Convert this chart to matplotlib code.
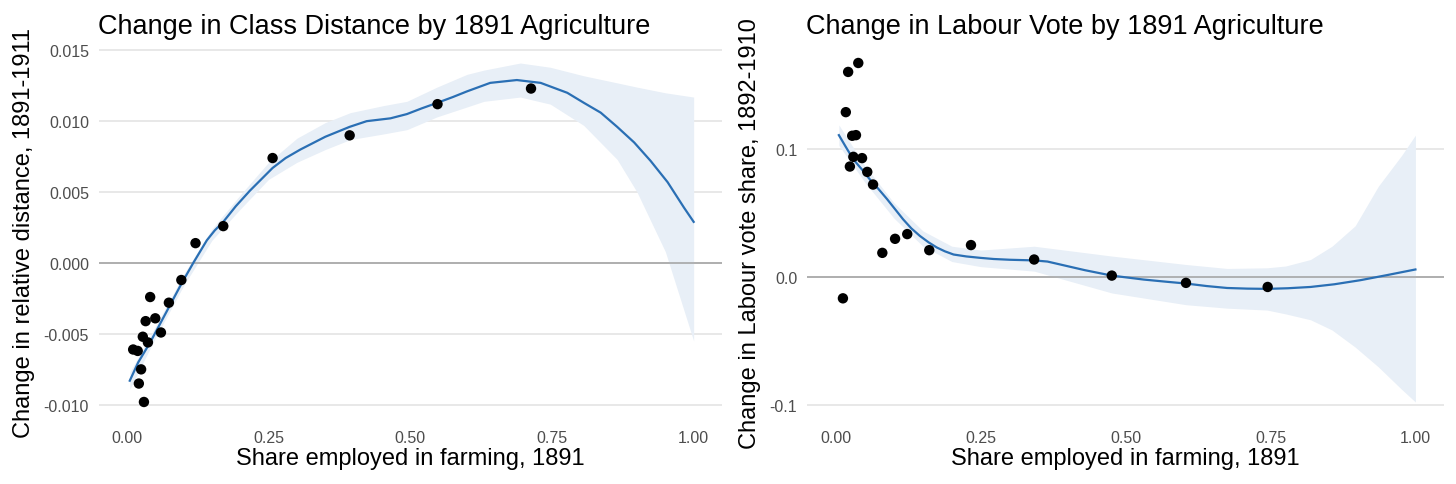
import matplotlib
matplotlib.use("Agg")
import matplotlib.pyplot as plt

# Left panel: class distance
class_x = [0.011, 0.019, 0.021, 0.025, 0.028, 0.030, 0.033, 0.037, 0.041, 0.050,
           0.060, 0.074, 0.096, 0.121, 0.170, 0.257, 0.393, 0.548, 0.713]
class_y = [-0.0061, -0.0062, -0.0085, -0.0075, -0.0052, -0.0098, -0.0041, -0.0056,
           -0.0024, -0.0039, -0.0049, -0.0028, -0.0012, 0.0014, 0.0026, 0.0074,
           0.0090, 0.0112, 0.0123]

class_fit_x = [0.005, 0.020, 0.041, 0.057, 0.073, 0.085, 0.097, 0.107, 0.117, 0.129,
               0.141, 0.155, 0.170, 0.192, 0.217, 0.237, 0.257, 0.280, 0.306, 0.350,
               0.393, 0.423, 0.465, 0.494, 0.520, 0.548, 0.575, 0.600, 0.641, 0.688,
               0.730, 0.777, 0.806, 0.836, 0.865, 0.895, 0.924, 0.954, 0.983, 1.000]
class_fit_y = [-0.0083, -0.0070, -0.0056, -0.0044, -0.0032, -0.0023, -0.0014, -0.0007,
               0.0000, 0.0008, 0.0016, 0.0023, 0.0029, 0.0040, 0.0051, 0.0059, 0.0067,
               0.0074, 0.0080, 0.0089, 0.0096, 0.0100, 0.0102, 0.0105, 0.0109, 0.0113,
               0.0117, 0.0121, 0.0127, 0.0129, 0.0127, 0.0120, 0.0113, 0.0106, 0.0096,
               0.0085, 0.0072, 0.0057, 0.0039, 0.0029]

class_band_x = [0.005, 0.05, 0.10, 0.15, 0.20, 0.25, 0.30, 0.35, 0.394, 0.453, 0.494,
                0.547, 0.60, 0.63, 0.694, 0.747, 0.806, 0.865, 0.90, 0.95, 1.00]
class_band_hi = [-0.0077, -0.0045, -0.0008, 0.0024, 0.0048, 0.0071, 0.0088, 0.0099,
                 0.0106, 0.0111, 0.0114, 0.0124, 0.0133, 0.0136, 0.0141, 0.0138, 0.0132,
                 0.0127, 0.0124, 0.0120, 0.0117]
class_band_lo = [-0.0089, -0.0053, -0.0016, 0.0016, 0.0038, 0.0059, 0.0071, 0.0080,
                 0.0087, 0.0091, 0.0094, 0.0103, 0.0110, 0.0114, 0.0117, 0.0112, 0.0097,
                 0.0073, 0.0050, 0.0008, -0.0055]

# Right panel: Labour vote
vote_x = [0.012, 0.017, 0.021, 0.024, 0.028, 0.030, 0.0345, 0.0385, 0.045, 0.054,
          0.064, 0.080, 0.102, 0.123, 0.161, 0.233, 0.342, 0.476, 0.604, 0.745]
vote_y = [-0.0168, 0.129, 0.1605, 0.0864, 0.1105, 0.094, 0.111, 0.1675, 0.093, 0.0822,
          0.0723, 0.0188, 0.0298, 0.0335, 0.0209, 0.0249, 0.0136, 0.0010, -0.0047, -0.0079]

vote_fit_x = [0.005, 0.018, 0.030, 0.045, 0.059, 0.073, 0.088, 0.102, 0.116, 0.130,
              0.145, 0.160, 0.174, 0.188, 0.203, 0.225, 0.249, 0.272, 0.300, 0.342,
              0.365, 0.387, 0.430, 0.476, 0.531, 0.570, 0.604, 0.640, 0.675, 0.710,
              0.744, 0.780, 0.819, 0.860, 0.905, 0.950, 1.000]
vote_fit_y = [0.111, 0.101, 0.092, 0.084, 0.076, 0.069, 0.061, 0.053, 0.045, 0.038,
              0.032, 0.027, 0.023, 0.020, 0.0175, 0.0160, 0.0149, 0.0140, 0.0134, 0.0129,
              0.0120, 0.0097, 0.0052, 0.0010, -0.0021, -0.0038, -0.0052, -0.0072,
              -0.0087, -0.0092, -0.0094, -0.0089, -0.0079, -0.0058, -0.0026, 0.0013,
              0.0058]

vote_band_x = [0.005, 0.05, 0.10, 0.15, 0.20, 0.25, 0.342, 0.476, 0.604, 0.675, 0.744,
               0.776, 0.819, 0.856, 0.896, 0.936, 0.976, 1.00]
vote_band_hi = [0.119, 0.087, 0.058, 0.036, 0.024, 0.021, 0.024, 0.0163, 0.0097, 0.0066,
                0.0071, 0.0085, 0.0136, 0.024, 0.040, 0.071, 0.095, 0.111]
vote_band_lo = [0.103, 0.074, 0.046, 0.024, 0.012, 0.008, 0.0045, -0.0126, -0.0218,
                -0.0245, -0.026, -0.029, -0.0336, -0.0416, -0.055, -0.0705, -0.088,
                -0.098]

x_ticks = [0.0, 0.25, 0.5, 0.75, 1.0]
x_tick_labels = ["0.00", "0.25", "0.50", "0.75", "1.00"]
class_ticks = [-0.010, -0.005, 0.000, 0.005, 0.010, 0.015]
class_tick_labels = ["-0.010", "-0.005", "0.000", "0.005", "0.010", "0.015"]
vote_ticks = [-0.1, 0.0, 0.1]
vote_tick_labels = ["-0.1", "0.0", "0.1"]

LINE_BLUE = "#2a6fb4"
BAND = "#e8eff7"


def _panel(ax, xs, ys, fx, fy, bx, blo, bhi, ylim, yticks, ylabels, title, ylab):
    ax.fill_between(bx, blo, bhi, color=BAND, linewidth=0, zorder=1)
    ax.axhline(0, color="#a0a0a0", linewidth=1.1, zorder=2)
    ax.plot(fx, fy, color=LINE_BLUE, linewidth=1.6, zorder=3,
            solid_joinstyle="round")
    ax.scatter(xs, ys, s=56, color="black", edgecolors="none", zorder=4)

    ax.set_xlim(-0.05, 1.05)
    ax.set_ylim(*ylim)
    ax.set_xticks(x_ticks)
    ax.set_xticklabels(x_tick_labels)
    ax.set_yticks(yticks)
    ax.set_yticklabels(ylabels)
    ax.grid(axis="y", color="#e6e6e6", linewidth=1.3, zorder=0)
    ax.set_axisbelow(True)
    for s in ax.spines.values():
        s.set_visible(False)
    ax.tick_params(length=0, labelsize=11.5, labelcolor="#4d4d4d")
    ax.tick_params(axis="x", pad=8)
    ax.tick_params(axis="y", pad=7)
    ax.set_title(title, loc="left", fontsize=19.5, pad=9, x=-0.001)
    ax.set_xlabel("Share employed in farming, 1891", fontsize=17, labelpad=1)
    ax.set_ylabel(ylab, fontsize=17, labelpad=6)


def _main():
    plt.rcParams["font.family"] = ["Liberation Sans", "DejaVu Sans"]
    fig = plt.figure(figsize=(14.56, 4.85), dpi=100)
    bottom = 1 - 420 / 485
    height = (420 - 47) / 485
    ax1 = fig.add_axes([98.6 / 1456, bottom, (722 - 98.6) / 1456, height])
    ax2 = fig.add_axes([807 / 1456, bottom, (1444.4 - 807) / 1456, height])

    _panel(ax1, class_x, class_y, class_fit_x, class_fit_y,
           class_band_x, class_band_lo, class_band_hi, (-0.011, 0.0153),
           class_ticks, class_tick_labels,
           "Change in Class Distance by 1891 Agriculture",
           "Change in relative distance, 1891-1911")
    _panel(ax2, vote_x, vote_y, vote_fit_x, vote_fit_y,
           vote_band_x, vote_band_lo, vote_band_hi, (-0.1113, 0.1808),
           vote_ticks, vote_tick_labels,
           "Change in Labour Vote by 1891 Agriculture",
           "Change in Labour vote share, 1892-1910")

    fig.savefig("out.png", dpi=100)


if __name__ == "__main__":
    _main()
